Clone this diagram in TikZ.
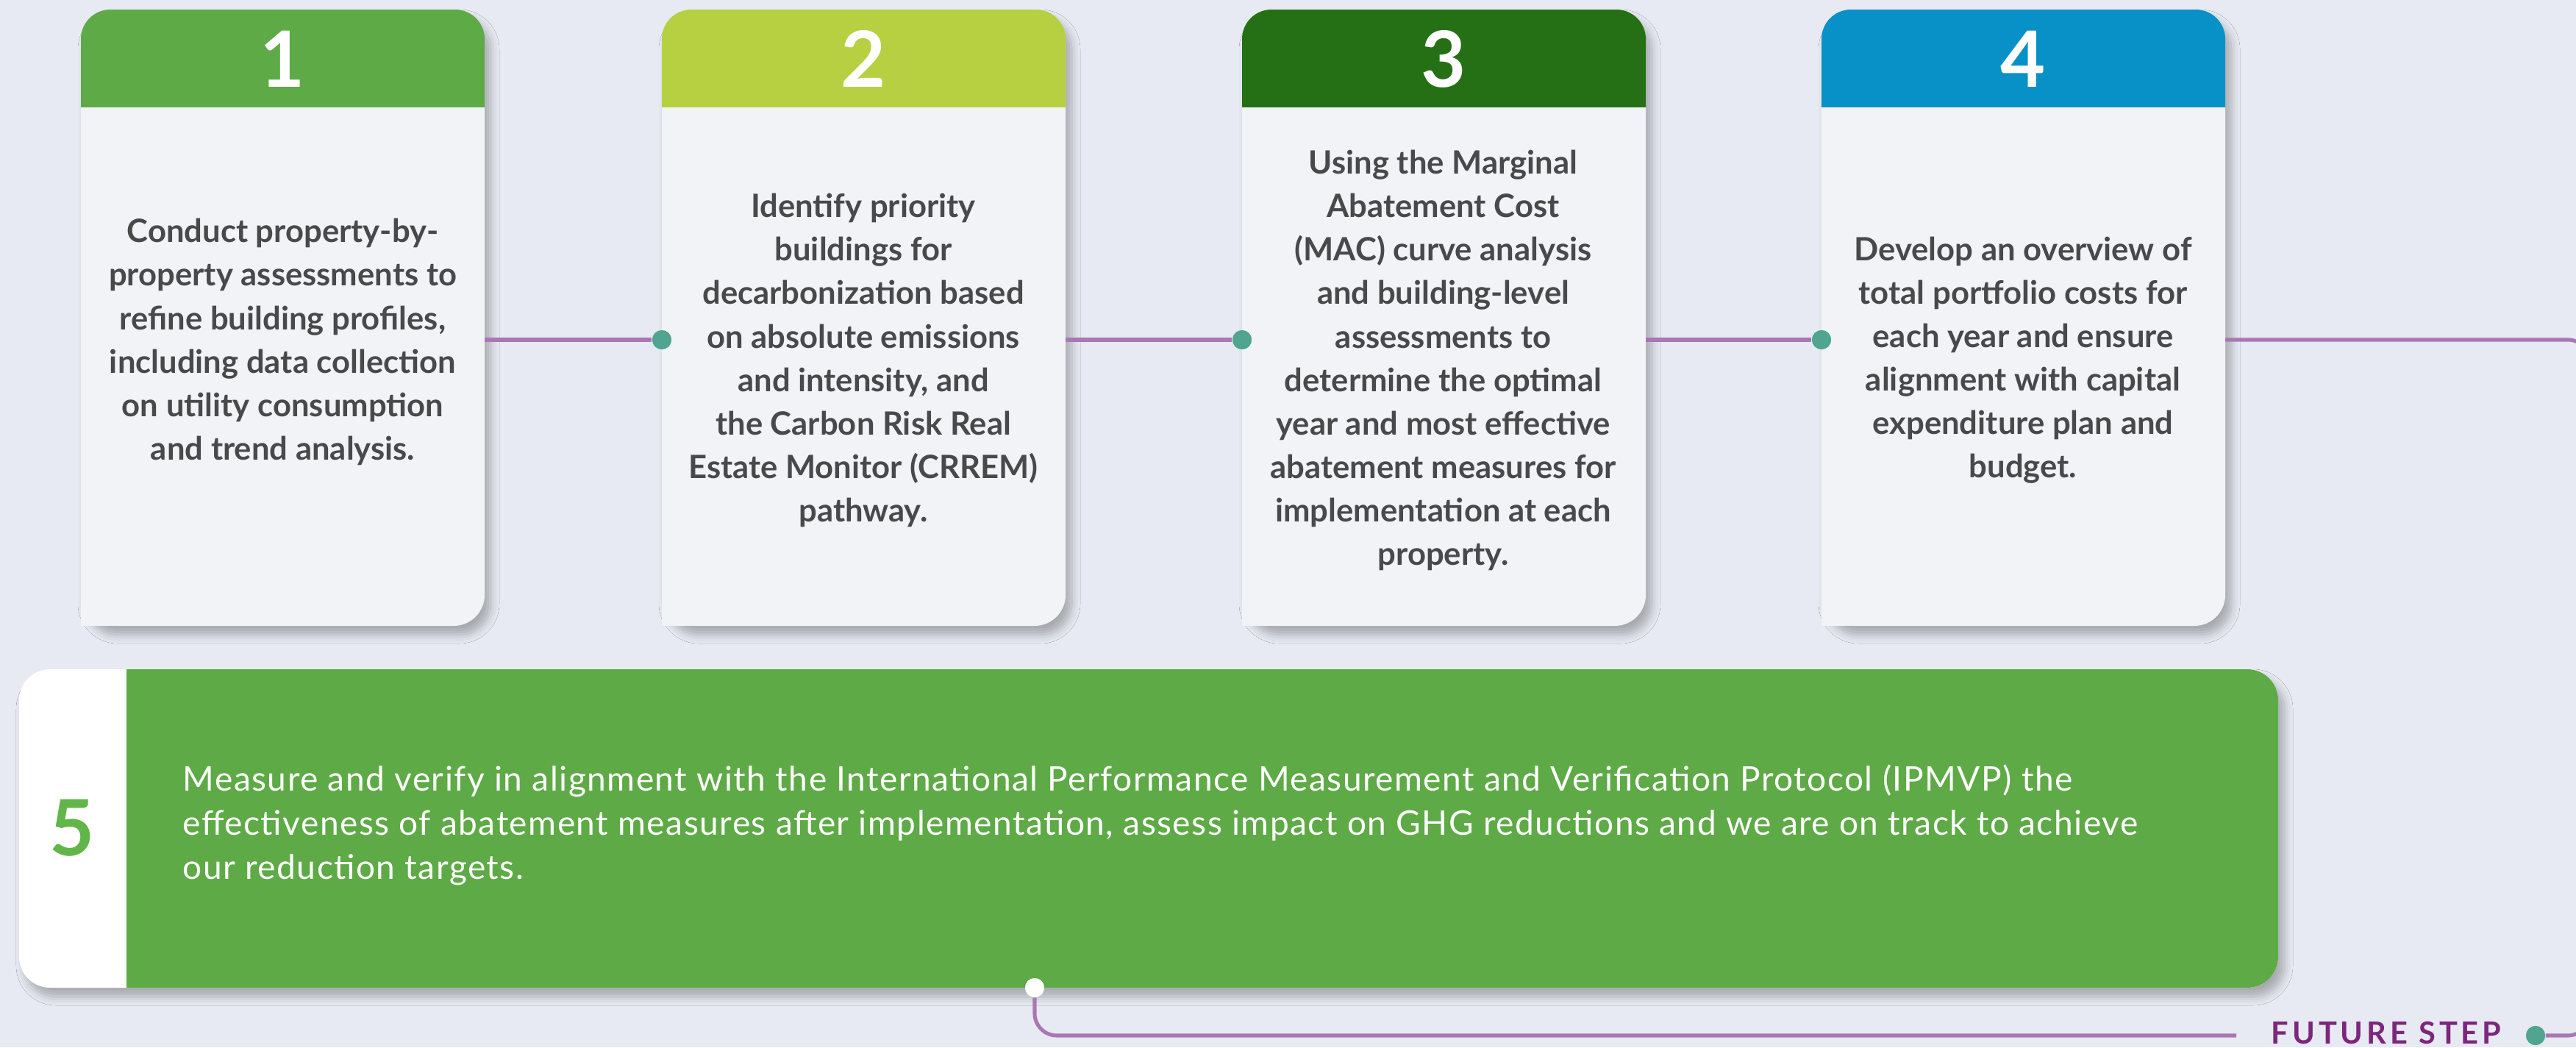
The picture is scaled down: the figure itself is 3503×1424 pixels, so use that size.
\documentclass[tikz,border=0pt]{standalone}
\usepackage{fontspec}
\setmainfont{Lato}
\usetikzlibrary{shadows.blur}

\definecolor{pagebg}{HTML}{E7EAF2}
\definecolor{cardbg}{HTML}{F2F3F7}
\definecolor{headA}{HTML}{5EAA46}
\definecolor{headB}{HTML}{B7D042}
\definecolor{headC}{HTML}{257015}
\definecolor{headD}{HTML}{0891C7}
\definecolor{fivegreen}{HTML}{62B548}
\definecolor{bodytext}{HTML}{48494B}
\definecolor{linkpurple}{HTML}{A977B4}
\definecolor{futurepurple}{HTML}{7D267B}
\definecolor{dotteal}{HTML}{4FA590}

\tikzset{
  cardshadow/.style={blur shadow={shadow xshift=0.08cm, shadow yshift=-0.12cm,
      shadow blur radius=0.12cm, shadow opacity=28}},
  numlabel/.style={text=white, font=\fontsize{30}{30}\selectfont\bfseries, inner sep=0pt},
  cardtext/.style={text=bodytext, align=center, inner sep=0pt,
      font=\fontsize{12.4}{16.8}\selectfont\bfseries},
  link/.style={draw=linkpurple, line width=1.45pt},
  tealdot/.style={circle, fill=dotteal, minimum size=0.26cm, inner sep=0pt},
  whitedot/.style={circle, fill=white, minimum size=0.26cm, inner sep=0pt},
}

% one step card: #1 left edge, #2 header colour, #3 number, #4 name
\newcommand\stepcard[4]{%
  \fill[cardbg, rounded corners=0.42cm, cardshadow] (#1,13) rectangle (#1+549,851);
  \fill[cardbg] (#1,790) rectangle (#1+60,851);
  \begin{scope}
    \clip (#1,13) rectangle (#1+549,145);
    \fill[#2, rounded corners=0.4cm] (#1,13) rectangle (#1+549,320);
  \end{scope}
  \node[numlabel] (#4num) at (#1+274.5,80) {#3};
  \coordinate (#4west) at (#1,462);
  \coordinate (#4east) at (#1+549,462);
}

\begin{document}
\begin{tikzpicture}[x=0.01cm, y=-0.01cm]
  \fill[pagebg] (0,0) rectangle (3503,1424);
  \useasboundingbox (0,0) rectangle (3503,1424);

  % step cards 1-4
  \stepcard{110}{headA}{1}{sA}
  \stepcard{900}{headB}{2}{sB}
  \stepcard{1689}{headC}{3}{sC}
  \stepcard{2477}{headD}{4}{sD}

  \node[cardtext] (tA) at (384.5,465) {Conduct property-by-\\property assessments to\\refine building profiles,\\including data collection\\on utility consumption\\and trend analysis.};
  \node[cardtext] (tB) at (1174,490) {Identify priority\\buildings for\\decarbonization based\\on absolute emissions\\and intensity, and\\the Carbon Risk Real\\Estate Monitor (CRREM)\\pathway.};
  \node[cardtext] (tC) at (1962.5,490) {Using the Marginal\\Abatement Cost\\(MAC) curve analysis\\and building-level\\assessments to\\determine the optimal\\year and most effective\\abatement measures for\\implementation at each\\property.};
  \node[cardtext] (tD) at (2751,490) {Develop an overview of\\total portfolio costs for\\each year and ensure\\alignment with capital\\expenditure plan and\\budget.};

  % step 5 banner
  \fill[white, rounded corners=0.42cm, cardshadow] (26,910) rectangle (3098,1343);
  \begin{scope}
    \clip (172,905) rectangle (3110,1350);
    \fill[headA, rounded corners=0.42cm] (100,910) rectangle (3098,1343);
  \end{scope}
  \node[text=fivegreen, font=\fontsize{30}{30}\selectfont\bfseries, inner sep=0pt] (n5) at (98,1126) {5};
  \node[text=white, align=left, anchor=west, inner sep=0pt,
        font=\fontsize{13.1}{17.1}\selectfont\addfontfeatures{LetterSpace=3.2}] (t5) at (248,1122)
    {Measure and verify in alignment with the International Performance Measurement and Verification Protocol (IPMVP) the\\
     effectiveness of abatement measures after implementation, assess impact on GHG reductions and we are on track to achieve\\
     our reduction targets.};

  % connector anchors
  \coordinate (sEdgeTop) at (3522,462);
  \coordinate (sEdgeBot) at (3522,1408);
  \coordinate (fsEnd) at (3041,1408);
  \node[tealdot] (dB) at (sBwest) {};
  \node[tealdot] (dC) at (sCwest) {};
  \node[tealdot] (dD) at (sDwest) {};
  \node[tealdot] (dF) at (3448,1408) {};
  \node[whitedot] (d5) at (1407,1343) {};

  % timeline connectors
  \draw[link] (sAeast) -- (dB.west);
  \draw[link] (sBeast) -- (dC.west);
  \draw[link] (sCeast) -- (dD.west);
  \draw[link, rounded corners=0.3cm] (sDeast) -- (sEdgeTop) -- (sEdgeBot) -- (dF.east);
  \draw[link, rounded corners=0.3cm] (d5.south) |- (fsEnd);

  % dots on top of the lines
  \node[tealdot] at (sBwest) {};
  \node[tealdot] at (sCwest) {};
  \node[tealdot] at (sDwest) {};
  \node[tealdot] at (3448,1408) {};
  \node[whitedot] at (1407,1343) {};

  \node[text=futurepurple, anchor=base west, inner sep=0pt,
        font=\fontsize{11.8}{12}\selectfont\bfseries\addfontfeatures{LetterSpace=12}] (fs) at (3088,1419) {FUTURE STEP};
\end{tikzpicture}
\end{document}
